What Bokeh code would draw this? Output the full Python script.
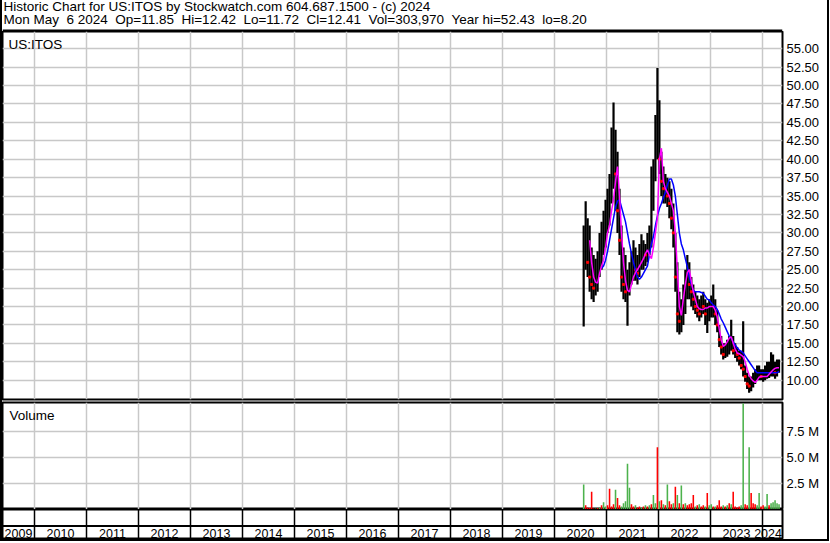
import pandas as pd
from bokeh.plotting import figure
from bokeh.layouts import column, row
from bokeh.models import (ColumnDataSource, Range1d, FixedTicker, Label, LabelSet, Span, Grid,
                          NumeralTickFormatter, Spacer)
from bokeh.core.properties import value, field
from bokeh.embed import file_html
from bokeh.resources import INLINE

FONT = "Liberation Sans"

# ---------------- text ----------------
header_line1 = "Historic Chart for US:ITOS by Stockwatch.com 604.687.1500 - (c) 2024"
header_line2 = "Mon May  6 2024  Op=11.85  Hi=12.42  Lo=11.72  Cl=12.41  Vol=303,970  Year hi=52.43  lo=8.20"
symbol = "US:ITOS"
volume_title = "Volume"

# ---------------- data (two-week bars) ----------------
bar_start = "2020-07-24"
n_bars = 99

highs = [31, 34.3, 32, 31, 28, 27, 26.5, 27.5, 30, 31.5,
         33, 34.5, 36, 38, 44.3, 47.7, 44, 41, 36, 31,
         28, 27, 25, 26, 27.5, 29, 28, 27, 28.5, 29.8,
         29, 28.5, 30, 31, 39, 40, 46, 52.4, 48, 41,
         39, 38, 37.5, 37, 36, 34, 30, 26, 22, 21,
         23, 25, 27, 26, 24, 23, 22, 21.5, 21, 21.5,
         22, 21, 20.5, 21, 21.5, 23, 21, 19.5, 17.5, 16,
         15, 15, 15.5, 16, 18.2, 16, 15, 14.5, 14, 14,
         18, 12, 11, 10.5, 10.5, 11, 11.5, 12, 12, 11.5,
         11.5, 12, 12.5, 12.5, 13.8, 13.5, 12.5, 12.8, 12.8]

lows = [17.3, 25, 24, 22, 21, 20.6, 21.5, 22, 24, 25,
        27, 28, 30, 31, 34, 36, 33, 30, 27, 22,
        21, 20.6, 17.4, 21.5, 23, 23.5, 23.5, 23, 24, 25,
        25, 25.5, 26, 27, 28, 33, 37, 40, 38, 35,
        34, 34, 33.5, 32, 30.5, 28, 22, 16.5, 16.2, 16.5,
        17.5, 19, 21, 21, 20, 19.5, 19, 18.5, 18, 18.5,
        19, 17.5, 16.4, 18, 18.5, 18.5, 17.5, 16.5, 14.5, 13.5,
        12.8, 13, 13.2, 13.5, 14, 13.5, 13, 12.5, 12, 11.5,
        10.5, 9.8, 8.8, 8.3, 8.5, 9, 9.5, 10, 10, 10,
        9.8, 10, 10.2, 10.3, 10.5, 10.5, 10.2, 10.5, 11]

closes = [28, 29, 26, 24, 23, 22.5, 24, 25.5, 28, 30,
          32, 33, 34, 36, 41, 43, 38, 33, 29, 24,
          23, 22, 22.5, 24, 25, 27, 25, 24.5, 26, 27,
          27.5, 27, 28, 29, 36, 38, 44, 47, 40, 37,
          36, 36.5, 35, 34, 32, 30, 24, 19, 18, 19.5,
          21, 23, 24.5, 23, 22, 21, 20, 19.5, 19, 20.5,
          20, 19, 19.5, 20, 20, 20.5, 19, 17.5, 15.5, 14.5,
          13.5, 14, 14.5, 15, 15.5, 14, 14, 13.5, 13, 12,
          11.5, 10.5, 9.5, 9.2, 9.5, 10, 10.5, 11, 11, 10.5,
          10.5, 11, 11, 11.5, 12, 12, 11, 12, 12.4]

# short moving average (magenta), starts at bar 3
ma_short_start = 3
ma_short = [29, 26, 24, 23.3, 23.2, 24.5, 25.5, 26.3, 28, 30,
            31, 33, 34.5, 37, 39, 35, 30, 26, 23.5, 22.2,
            22, 23, 24, 24.6, 25, 25.5, 26, 26.5, 27.2, 27.7,
            27, 26.5, 28, 30, 32, 40, 41.5, 37, 36, 35.5,
            35, 34, 33, 30, 25, 20, 18.8, 21, 23, 24.6,
            25, 23.5, 22, 21, 20, 19.7, 19.6, 19.6, 19.8, 19.8,
            20, 20, 20, 19.5, 18.6, 17, 15.5, 14.6, 14.8, 15.2,
            15.7, 15.9, 15, 14.2, 13.7, 13.6, 13.4, 13.2, 12.5, 11.5,
            10.7, 10.2, 9.9, 9.7, 10, 10.4, 10.5, 10.5, 10.5, 10.5,
            10.8, 11.1, 11.4, 11.6, 11.7, 11.7]

# long moving average (blue), starts at bar 9
ma_long_start = 9
ma_long = [25.2, 25.5, 26.3, 27.5, 29, 30.5, 32, 33.5, 34.3, 34.5,
           33.5, 32.5, 31.5, 30, 28.5, 27.2, 26, 25, 24, 23.7,
           24, 24.5, 25, 25.5, 27, 28.5, 29.5, 31, 32.3, 33.3,
           34, 34.8, 35.5, 36.5, 37.3, 37.3, 36.5, 35, 32.5, 30,
           28.5, 27.7, 26.5, 25.4, 24, 23, 22.2, 22, 22, 22,
           21.9, 21.8, 21.4, 21, 20.9, 20.5, 20.2, 20, 19.6, 19,
           18.3, 17.8, 17.2, 16.6, 16, 15.7, 15.2, 14.8, 14.4, 14.1,
           13.9, 13.7, 13.3, 12.9, 12.5, 12.1, 11.7, 11.3, 11, 11,
           11, 11, 11, 11, 11, 11, 11, 11, 11, 11.2]

# volume in millions, and whether the bar is an up (green) bar
volume_m = [2.4, 0.4, 0.2, 0.15, 1.7, 0.1, 0.1, 0.15, 0.2, 0.4,
            0.7, 0.3, 0.4, 2.0, 0.3, 0.5, 1.9, 1.1, 0.4, 0.3,
            0.6, 0.8, 4.4, 2.1, 0.5, 0.3, 0.4, 0.2, 0.3, 0.2,
            0.3, 0.4, 0.3, 0.4, 0.5, 1.4, 0.6, 6.0, 0.8, 0.9,
            0.5, 0.4, 2.4, 0.8, 0.5, 0.6, 2.2, 1.4, 0.6, 2.3,
            0.5, 0.6, 0.4, 0.5, 0.6, 1.4, 0.3, 0.4, 0.5, 0.3,
            0.4, 0.3, 1.6, 0.4, 0.5, 0.3, 0.3, 0.4, 0.9, 0.3,
            0.4, 0.3, 0.4, 0.6, 0.5, 1.7, 0.3, 0.2, 0.3, 0.4,
            10.2, 0.5, 0.4, 6.0, 1.6, 0.6, 0.5, 0.4, 1.6, 0.3,
            0.4, 0.3, 1.5, 0.4, 0.6, 0.7, 0.9, 0.6, 0.5]
volume_up = [1, 0, 0, 0, 0, 0, 1, 0, 1, 0,
             1, 1, 0, 0, 0, 0, 1, 0, 0, 1,
             1, 1, 1, 1, 0, 0, 1, 0, 0, 1,
             0, 1, 0, 1, 0, 1, 1, 0, 1, 0,
             1, 0, 1, 0, 0, 1, 0, 1, 0, 1,
             0, 1, 0, 0, 0, 0, 1, 0, 1, 0,
             0, 1, 0, 1, 1, 0, 1, 0, 0, 0,
             1, 0, 1, 0, 1, 0, 0, 0, 0, 1,
             1, 0, 0, 1, 0, 0, 0, 1, 1, 0,
             0, 1, 1, 0, 1, 1, 1, 1, 1]

price_ticks = [10.0, 12.5, 15.0, 17.5, 20.0, 22.5, 25.0, 27.5, 30.0, 32.5,
               35.0, 37.5, 40.0, 42.5, 45.0, 47.5, 50.0, 52.5, 55.0]
volume_ticks = [2.5, 5.0, 7.5]
volume_tick_labels = ["2.5 M", "5.0 M", "7.5 M"]
years = list(range(2009, 2025))
x_start, x_end = 2009.385, 2024.385
price_range = (7.38, 57.34)
volume_range = (0, 10.3)

# ---------------- derived ----------------
def decimal_year(d):
    days = 366 if d.is_leap_year else 365
    return d.year + (d.dayofyear - 0.5) / days

dates = pd.date_range(bar_start, periods=n_bars, freq="14D")
t = [decimal_year(d) for d in dates]

bars = ColumnDataSource(dict(t=t, hi=highs, lo=lows, cl=closes))
down_idx = [i for i in range(1, n_bars) if closes[i] < closes[i - 1]]
down = ColumnDataSource(dict(t=[t[i] for i in down_idx], cl=[closes[i] for i in down_idx]))
ma_s = ColumnDataSource(dict(t=t[ma_short_start:ma_short_start + len(ma_short)], v=ma_short))
ma_l = ColumnDataSource(dict(t=t[ma_long_start:ma_long_start + len(ma_long)], v=ma_long))
vol = ColumnDataSource(dict(t=t, v=volume_m,
                            c=["#4cb24c" if u else "#ff0000" for u in volume_up]))

# year labels: centred on the visible part of each year; the last (partial) year
# is right-aligned at the end of the range so that it stays visible
year_x, year_align = [], []
for y in years:
    lo_, hi_ = max(y, x_start), min(y + 1, x_end)
    if hi_ - lo_ < 0.6 and y == years[-1]:
        year_x.append(x_end - 0.01)
        year_align.append("right")
    else:
        year_x.append((lo_ + hi_) / 2)
        year_align.append("center")
year_src = ColumnDataSource(dict(x=year_x, y=[6.5] * len(years), s=[str(y) for y in years],
                                 align=year_align))
boundaries = [y for y in years if x_start < y < x_end]

# ---------------- layout ----------------
W = 825          # inner width (between the 2px outer borders)
AXW = 45         # right axis area
XR = Range1d(x_start, x_end)
GRID_C = "#c8c8c8"


def nb(s):
    return s.replace("  ", " \u00a0")


def make(height, y_range, right_axis, top=0, bottom=0):
    p = figure(width=W, height=height, x_range=XR, y_range=y_range,
               toolbar_location=None, output_backend="svg",
               x_axis_location=None, y_axis_location="right" if right_axis else None,
               min_border_left=0, min_border_right=AXW,
               min_border_top=top, min_border_bottom=bottom,
               outline_line_color="black", outline_line_width=2,
               background_fill_color="white", border_fill_color="white")
    p.grid.visible = False
    return p


def style_axis(ax):
    ax.major_tick_line_color = None
    ax.minor_tick_line_color = None
    ax.major_tick_out = 0
    ax.major_tick_in = 0
    ax.axis_line_color = None
    ax.major_label_text_font = FONT
    ax.major_label_text_font_size = "13px"
    ax.major_label_text_color = "black"
    ax.major_label_standoff = 4


# header
H0 = 31
p0 = figure(width=W, height=H0, x_range=(0, 1), y_range=(0, H0),
            toolbar_location=None, output_backend="svg",
            x_axis_location=None, y_axis_location=None,
            min_border_left=0, min_border_right=0, min_border_top=0, min_border_bottom=0,
            outline_line_color=None, background_fill_color="white", border_fill_color="white")
p0.grid.visible = False
p0.add_layout(Label(x=1, y=18, x_units="screen", y_units="screen", text=nb(header_line1),
                    text_font=FONT, text_font_size="13.5px", text_color="black"))
p0.add_layout(Label(x=1, y=4.5, x_units="screen", y_units="screen", text=nb(header_line2),
                    text_font=FONT, text_font_size="13.5px", text_color="black"))
p0.add_layout(Span(location=1, dimension="width", line_color="black", line_width=2))

# price panel
H1 = 370
p1 = make(H1, Range1d(*price_range), True, top=0, bottom=2)
p1.add_layout(Grid(dimension=0, ticker=FixedTicker(ticks=boundaries),
                   grid_line_color=GRID_C, grid_line_width=1.5))
p1.add_layout(Grid(dimension=1, ticker=FixedTicker(ticks=price_ticks),
                   grid_line_color=GRID_C, grid_line_width=1.5))
p1.yaxis.ticker = FixedTicker(ticks=price_ticks)
p1.yaxis.formatter = NumeralTickFormatter(format="0.00")
style_axis(p1.yaxis[0])
p1.segment(x0="t", y0="lo", x1="t", y1="hi", source=bars, line_color="black", line_width=2.2)
p1.scatter(x="t", y="cl", source=down, marker="square", size=2, color="#ff0000")
p1.line(x="t", y="v", source=ma_l, line_color="#0000ff", line_width=1.5)
p1.line(x="t", y="v", source=ma_s, line_color="#ff00ff", line_width=1.5)
p1.add_layout(Label(x=6, y=H1 - 2 - 5, x_units="screen", y_units="screen", text=symbol,
                    text_font=FONT, text_font_size="13.5px", text_baseline="top",
                    text_color="black"))

# volume panel
H2 = 108
p2 = make(H2, Range1d(*volume_range), True, top=1, bottom=0)
p2.add_layout(Grid(dimension=0, ticker=FixedTicker(ticks=boundaries),
                   grid_line_color=GRID_C, grid_line_width=1.5))
p2.add_layout(Grid(dimension=1, ticker=FixedTicker(ticks=volume_ticks),
                   grid_line_color=GRID_C, grid_line_width=1.5))
p2.yaxis.ticker = FixedTicker(ticks=volume_ticks)
p2.yaxis.major_label_overrides = {k: v for k, v in zip(volume_ticks, volume_tick_labels)}
style_axis(p2.yaxis[0])
p2.vbar(x="t", top="v", width=0.03, source=vol, fill_color="c", line_color=None)
p2.add_layout(Label(x=7, y=H2 - 1 - 5, x_units="screen", y_units="screen", text=volume_title,
                    text_font=FONT, text_font_size="13.5px", text_baseline="top",
                    text_color="black"))

# date band
H3 = 30
p3 = make(H3, Range1d(0, H3), False, top=0, bottom=0)
p3.add_layout(Grid(dimension=0, ticker=FixedTicker(ticks=boundaries),
                   grid_line_color="black", grid_line_width=1.5))
p3.add_layout(Span(location=13.5, dimension="width", line_color="black", line_width=2))
p3.add_layout(LabelSet(x="x", y="y", text="s", source=year_src, text_align=field("align"),
                       text_baseline="middle", text_font=value(FONT), text_font_size="12.5px",
                       text_color="black"))

TOTAL_H = H0 + H1 + H2 + H3 + 2
left_border = Spacer(width=2, height=TOTAL_H, styles={"background-color": "black"})
right_border = Spacer(width=2, height=TOTAL_H, styles={"background-color": "black"})
bottom_border = Spacer(width=W, height=2, styles={"background-color": "black"})

layout = row(left_border, column(p0, p1, p2, p3, bottom_border, spacing=0), right_border, spacing=0)

open("out.html", "w").write(file_html(layout, INLINE))
